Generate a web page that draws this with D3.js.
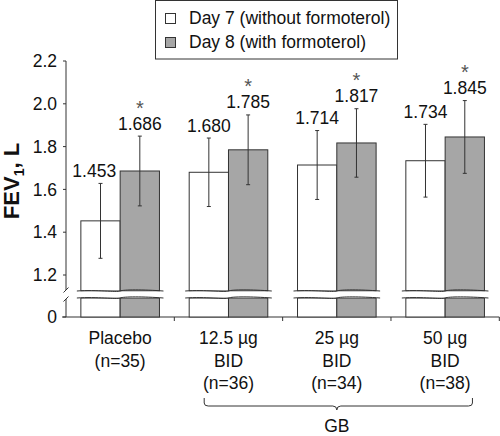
<!DOCTYPE html>
<html><head><meta charset="utf-8">
<script src="https://cdn.jsdelivr.net/npm/d3@7"></script>
<style>body{margin:0;background:#fff}svg{display:block}text{font-family:"Liberation Sans",Arial,sans-serif}</style>
</head><body>
<svg id="c" width="500" height="436"></svg>
<script>
const categories = ["Placebo", "12.5 µg", "25 µg", "50 µg"];
const categoryLines = [["Placebo", "(n=35)"], ["12.5 µg", "BID", "(n=36)"], ["25 µg", "BID", "(n=34)"], ["50 µg", "BID", "(n=38)"]];
const seriesNames = ["Day 7 (without formoterol)", "Day 8 (with formoterol)"];
const day7 = [1.453, 1.680, 1.714, 1.734];
const day8 = [1.686, 1.785, 1.817, 1.845];
const day7Err = [0.175, 0.160, 0.161, 0.170];
const day8Err = [0.163, 0.163, 0.160, 0.170];
const day8Signif = [true, true, true, true];
const yTicksUpper = [1.2, 1.4, 1.6, 1.8, 2.0, 2.2];
const yTicksLower = [0];
const groupLabel = "GB";

const svg = d3.select("#c");
const dark = "#333";
const grayFill = "#a6a6a6";
const fs = 17.5;

const x0 = d3.scaleBand().domain(categories).range([66, 499.3]).paddingInner(0).paddingOuter(0);
const x1 = d3.scaleBand().domain([0, 1]).range([0, 78.6]);
const off = (x0.bandwidth() - 78.6) / 2;
const yU = d3.scaleLinear().domain([1.2, 2.2]).range([275, 61]);
const yL = d3.scaleLinear().domain([0, 0.09]).range([317, 298]);
const breakTop = 291, breakBot = 298;

const g = svg.append("g");
g.append("line").attr("x1", 66).attr("x2", 66).attr("y1", yU(2.2)).attr("y2", breakTop - 1).attr("stroke", dark);
g.append("line").attr("x1", 66).attr("x2", 66).attr("y1", breakBot + 1).attr("y2", yL(0)).attr("stroke", dark);
[breakTop - 1, breakBot + 1].forEach(y => {
  g.append("line").attr("x1", 63.5).attr("x2", 68.5).attr("y1", y + 2.5).attr("y2", y - 2.5).attr("stroke", dark);
});
yTicksUpper.forEach(t => {
  g.append("line").attr("x1", 63).attr("x2", 66).attr("y1", yU(t)).attr("y2", yU(t)).attr("stroke", dark);
  g.append("text").attr("x", 57).attr("y", yU(t)).attr("dy", "0.35em").attr("text-anchor", "end").attr("font-size", fs).attr("fill", "#111").text(d3.format(".1f")(t));
});
yTicksLower.forEach(t => {
  g.append("line").attr("x1", 63).attr("x2", 66).attr("y1", yL(t)).attr("y2", yL(t)).attr("stroke", dark);
  g.append("text").attr("x", 57).attr("y", yL(t)).attr("dy", "0.35em").attr("text-anchor", "end").attr("font-size", fs).attr("fill", "#111").text(String(t));
});
g.append("line").attr("x1", 62).attr("x2", 499.3).attr("y1", yL(0)).attr("y2", yL(0)).attr("stroke", dark);
categories.forEach(c => {
  const xr = x0(c) + x0.bandwidth();
  g.append("line").attr("x1", xr).attr("x2", xr).attr("y1", yL(0)).attr("y2", yL(0) + 4).attr("stroke", dark);
});

const yt = svg.append("text").attr("transform", "translate(18.5,181) rotate(-90)").attr("text-anchor", "middle")
  .attr("font-size", 22).attr("font-weight", "bold").attr("fill", "#111");
yt.append("tspan").text("FEV");
yt.append("tspan").attr("font-size", 14).attr("dy", 5).text("1");
yt.append("tspan").attr("dy", -5).text(", L");

const series = [
  {vals: day7, err: day7Err, fill: "#fff"},
  {vals: day8, err: day8Err, fill: grayFill}
];
const bw = x1.bandwidth();
categories.forEach((c, i) => {
  series.forEach((s, k) => {
    const bx = x0(c) + off + x1(k);
    g.append("rect").attr("x", bx).attr("y", yU(s.vals[i])).attr("width", bw).attr("height", breakTop - yU(s.vals[i]))
      .attr("fill", s.fill).attr("stroke", dark).attr("stroke-width", 1);
    g.append("rect").attr("x", bx).attr("y", breakBot).attr("width", bw).attr("height", yL(0) - breakBot)
      .attr("fill", s.fill).attr("stroke", dark).attr("stroke-width", 1);
  });
  const bx0 = x0(c) + off - 4, bx1 = x0(c) + off + 78.6 + 4;
  const wave = y => `M${bx0},${y} C${bx0 + 20},${y - 1.5} ${bx0 + 40},${y + 1.5} ${(bx0 + bx1) / 2},${y} S${bx1 - 20},${y - 1.5} ${bx1},${y}`;
  g.append("rect").attr("x", bx0).attr("y", breakTop + 0.5).attr("width", bx1 - bx0).attr("height", breakBot - breakTop - 1).attr("fill", "#fff");
  g.append("path").attr("d", wave(breakTop)).attr("fill", "none").attr("stroke", dark);
  g.append("path").attr("d", wave(breakBot)).attr("fill", "none").attr("stroke", dark);
});

categories.forEach((c, i) => {
  series.forEach((s, k) => {
    const cx = x0(c) + off + x1(k) + bw / 2;
    const hi = yU(s.vals[i] + s.err[i]), lo = yU(s.vals[i] - s.err[i]);
    g.append("line").attr("x1", cx).attr("x2", cx).attr("y1", hi).attr("y2", lo).attr("stroke", dark);
    [hi, lo].forEach(y => g.append("line").attr("x1", cx - 2).attr("x2", cx + 2).attr("y1", y).attr("y2", y).attr("stroke", dark));
    const base = hi - 6.5;
    const t = g.append("text").attr("x", cx).attr("y", base).attr("text-anchor", "middle").attr("font-size", fs).attr("fill", "#111")
      .text(d3.format(".3f")(s.vals[i]));
    if (k === 0) {
      const w = t.node().getComputedTextLength();
      const grayTop = yU(day8[i]);
      const grayLeft = x0(c) + off + x1(1);
      if (base > grayTop && cx + w / 2 > grayLeft - 4) {
        t.attr("text-anchor", "end").attr("x", grayLeft - 4);
      }
    }
    if (k === 1 && day8Signif[i]) {
      g.append("text").attr("x", cx).attr("y", base - 15).attr("text-anchor", "middle").attr("font-size", 20).attr("fill", "#555").text("*");
    }
  });
});

categoryLines.forEach((lines, i) => {
  const cx = x0(categories[i]) + x0.bandwidth() / 2;
  lines.forEach((ln, j) => {
    g.append("text").attr("x", cx).attr("y", 344 + j * 22.5).attr("text-anchor", "middle").attr("font-size", fs).attr("fill", "#111").text(ln);
  });
});

const bL = x0(categories[1]) + off + 15, bR = x0(categories[3]) + x0.bandwidth() - off - 12;
const bM = x0(categories[2]) + x0.bandwidth() / 2;
const by = 398;
g.append("path").attr("d",
  `M${bL},${by} L${bL},${by + 5} Q${bL},${by + 8} ${bL + 4},${by + 8} L${bM - 4},${by + 8} Q${bM},${by + 8} ${bM},${by + 12}` +
  ` Q${bM},${by + 8} ${bM + 4},${by + 8} L${bR - 4},${by + 8} Q${bR},${by + 8} ${bR},${by + 5} L${bR},${by}`)
  .attr("fill", "none").attr("stroke", dark);
g.append("text").attr("x", bM).attr("y", 431.5).attr("text-anchor", "middle").attr("font-size", fs).attr("fill", "#111").text(groupLabel);

const lg = svg.append("g");
lg.append("rect").attr("x", 155.5).attr("y", 0.5).attr("width", 242).attr("height", 58.5).attr("fill", "#fff").attr("stroke", dark);
seriesNames.forEach((n, k) => {
  const fill = series[k].fill;
  lg.append("rect").attr("x", 165.5).attr("y", 13.5 + k * 24).attr("width", 10).attr("height", 10).attr("fill", fill).attr("stroke", dark);
  lg.append("text").attr("x", 189).attr("y", 24 + k * 24).attr("font-size", fs).attr("fill", "#111").text(n);
});
</script>
</body></html>
